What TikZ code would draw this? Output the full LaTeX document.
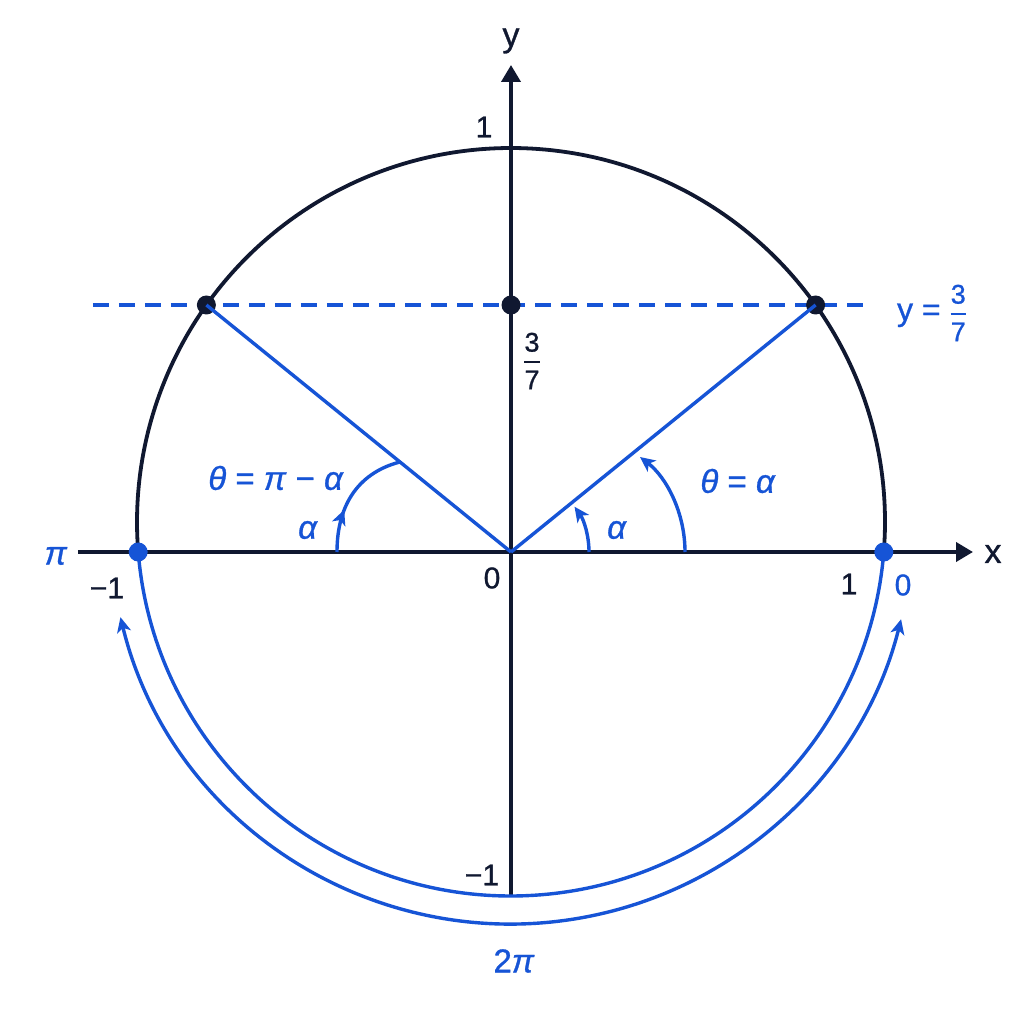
\documentclass[tikz,border=0pt]{standalone}
\usepackage{amsmath}
\usepackage{fontspec}
\setmainfont{Liberation Sans}[UprightFeatures={FakeBold=0.9},ItalicFeatures={FakeBold=0.9}]
\usetikzlibrary{arrows.meta,decorations.markings}
\definecolor{navy}{RGB}{16,24,48}
\definecolor{cblue}{RGB}{22,84,214}
\newcommand\myfr[2]{$\genfrac{}{}{2.4pt}{0}{\mbox{#1}}{\mbox{#2}}$}
\begin{document}
\begin{tikzpicture}[x=1pt,y=1pt,
  axisline/.style={draw=navy,line width=3.8pt,-{Triangle[length=17pt,width=19pt]}},
  navyline/.style={draw=navy,line width=3.8pt},
  blueline/.style={draw=cblue,line width=3.4pt},
  tipb/.style={-{Stealth[length=15pt,width=14pt,inset=4pt]}},
  dotn/.style={circle,inner sep=0pt,minimum size=19pt},
  lab/.style={font=\fontsize{30}{36}\selectfont,inner sep=0pt,text=navy},
  blab/.style={lab,text=cblue},
  glab/.style={font=\fontsize{33}{40}\selectfont,inner sep=0pt,text=cblue},
  frlab/.style={font=\fontsize{27}{32}\selectfont,inner sep=0pt}
]
\useasboundingbox (-511,-472) rectangle (513,552);
\fill[white] (-511,-472) rectangle (513,552);

% key coordinates
\coordinate (O) at (0,0);
\coordinate (C) at (0,30);
\coordinate (xs) at (-433,0);
\coordinate (xe) at (462,0);
\coordinate (ys) at (0,-344);
\coordinate (ye) at (0,487);
\coordinate (dl) at (-418,247);
\coordinate (dr) at (360,247);

% dashed line y = 3/7
\draw[blueline,dash pattern=on 16pt off 10pt] (dl) -- (dr);

% axes
\draw[axisline] (xs) -- (xe);
\draw[axisline] (ys) -- (ye);

% circle: upper half navy, lower half blue
\draw[navyline] (C) ++(-4.6:374) arc[start angle=-4.6,end angle=184.6,radius=374];
\draw[blueline] (C) ++(184.6:374) arc[start angle=184.6,end angle=355.4,radius=374];

% points
\node[dotn,fill=navy] (PL) at (-304.6,247) {};
\node[dotn,fill=navy] (PM) at (0,247) {};
\node[dotn,fill=navy] (PR) at (304.6,247) {};

% radii
\draw[blueline] (O) -- (PL.center);
\draw[blueline] (O) -- (PR.center);

\node[dotn,fill=cblue] (QL) at (-372.8,0) {};
\node[dotn,fill=cblue] (QR) at (372.8,0) {};

% angle arcs right
\draw[blueline,tipb] (78,0) arc[start angle=0,end angle=35.5,radius=78];
\draw[blueline,tipb] (174,0) .. controls (174,40) and (155,75) .. (129,95);

% angle arc left with mid arrow
\draw[blueline,postaction={decorate},
  decoration={markings,mark=at position 0.36 with {\arrow{Stealth[length=15pt,width=14pt,inset=4pt]}}}]
  (-174,0) .. controls (-174,50) and (-150,80) .. (-111,90);

% outer 2pi arc
\draw[blueline,{Stealth[length=15pt,width=14pt,inset=4pt]}-{Stealth[length=15pt,width=14pt,inset=4pt]}]
  (C) ++(193.7:402) arc[start angle=193.7,end angle=346,radius=402];

% labels
\node[lab,font=\fontsize{34}{40}\selectfont] (lx) at (482,-2) {x};
\node[lab,font=\fontsize{34}{40}\selectfont] (ly) at (0,511) {y};
\node[lab] (l1t) at (-27,425) {1};
\node[lab] (l0) at (-19,-26) {0};
\node[lab] (lm1l) at (-404,-36) {−1};
\node[lab] (l1r) at (338,-32) {1};
\node[lab] (lm1b) at (-29,-323) {−1};
\node[blab] (l0b) at (392,-33) {0};
\node[glab] (lpi) at (-455,-4) {\textit{π}};
\node[glab] (l2pi) at (3,-409) {2\textit{π}};
\node[glab] (lthl) at (-235,74) {\textit{θ} = \textit{π} − \textit{α}};
\node[glab] (lal) at (-203,22) {\textit{α}};
\node[glab] (lar) at (106,22) {\textit{α}};
\node[glab] (lthr) at (227,71) {\textit{θ} = \textit{α}};
\node[frlab,text=navy] (lfr) at (21,191) {\myfr{3}{7}};
\node[frlab,text=cblue,font=\fontsize{32}{38}\selectfont] (lyfr) at (421,239) {y = \fontsize{27}{32}\selectfont\myfr{3}{7}};
\end{tikzpicture}
\end{document}
